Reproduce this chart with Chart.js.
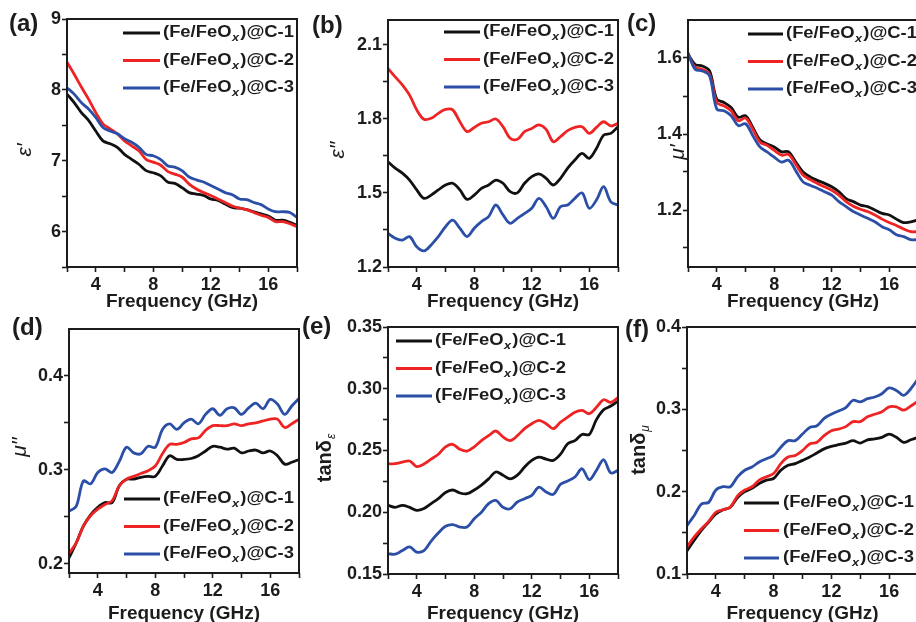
<!DOCTYPE html>
<html>
<head>
<meta charset="utf-8">
<script src="https://cdn.jsdelivr.net/npm/chart.js@4.4.0/dist/chart.umd.min.js"></script>
<style>
  html, body { margin: 0; padding: 0; background: #fff; }
  #fig { position: relative; width: 916px; height: 622px; overflow: hidden; background: #fff; }
  .panel { position: absolute; }
</style>
</head>
<body>
<div id="fig"></div>
<script>
// ─── Data ────────────────────────────────────────────────────────────────────
const FREQ = [2, 2.5, 3, 3.5, 4, 4.5, 5, 5.5, 6, 6.5, 7, 7.5, 8, 8.5, 9, 9.5, 10,
  10.5, 11, 11.5, 12, 12.5, 13, 13.5, 14, 14.5, 15, 15.5, 16, 16.5, 17, 17.5, 18];

const SAMPLE_NAMES = ["(Fe/FeOx)@C-1", "(Fe/FeOx)@C-2", "(Fe/FeOx)@C-3"];

// (a) ε'
const EPS1_C1 = [7.94, 7.82, 7.68, 7.57, 7.42, 7.28, 7.24, 7.19, 7.09, 7.02, 6.95, 6.86, 6.83, 6.79, 6.70, 6.68, 6.62,
  6.55, 6.53, 6.51, 6.46, 6.44, 6.39, 6.34, 6.33, 6.31, 6.28, 6.25, 6.22, 6.16, 6.16, 6.13, 6.09];
const EPS1_C2 = [8.39, 8.22, 8.04, 7.87, 7.68, 7.52, 7.45, 7.38, 7.28, 7.21, 7.14, 7.02, 6.98, 6.94, 6.85, 6.81, 6.77,
  6.67, 6.60, 6.55, 6.51, 6.46, 6.41, 6.36, 6.33, 6.31, 6.27, 6.23, 6.20, 6.14, 6.14, 6.11, 6.07];
const EPS1_C3 = [8.03, 7.94, 7.82, 7.73, 7.61, 7.47, 7.42, 7.38, 7.31, 7.26, 7.19, 7.09, 7.07, 7.02, 6.93, 6.91, 6.86,
  6.77, 6.73, 6.70, 6.65, 6.60, 6.55, 6.52, 6.46, 6.45, 6.41, 6.38, 6.32, 6.28, 6.28, 6.27, 6.20];

// (b) ε''
const EPS2_C1 = [1.626, 1.60, 1.58, 1.552, 1.512, 1.478, 1.491, 1.512, 1.532, 1.539, 1.512, 1.474, 1.491, 1.518, 1.532, 1.552, 1.539,
  1.505, 1.50, 1.539, 1.566, 1.577, 1.559, 1.532, 1.559, 1.60, 1.633, 1.66, 1.64, 1.68, 1.734, 1.741, 1.768];
const EPS2_C2 = [2.004, 1.97, 1.937, 1.896, 1.836, 1.798, 1.802, 1.822, 1.838, 1.836, 1.788, 1.748, 1.765, 1.782, 1.788, 1.799, 1.768,
  1.721, 1.717, 1.748, 1.761, 1.775, 1.757, 1.707, 1.728, 1.752, 1.765, 1.768, 1.741, 1.765, 1.788, 1.771, 1.782];
const EPS2_C3 = [1.336, 1.316, 1.309, 1.323, 1.282, 1.265, 1.289, 1.323, 1.363, 1.39, 1.357, 1.323, 1.357, 1.384, 1.404, 1.451, 1.411,
  1.377, 1.397, 1.417, 1.438, 1.478, 1.444, 1.397, 1.444, 1.451, 1.478, 1.50, 1.438, 1.471, 1.525, 1.464, 1.451];

// (c) μ'
const MU1_C1 = [1.61, 1.583, 1.579, 1.566, 1.492, 1.483, 1.47, 1.444, 1.448, 1.418, 1.385, 1.374, 1.366, 1.353, 1.353, 1.326, 1.30,
  1.287, 1.278, 1.27, 1.261, 1.248, 1.23, 1.222, 1.213, 1.209, 1.20, 1.191, 1.187, 1.176, 1.167, 1.169, 1.174];
const MU1_C2 = [1.61, 1.575, 1.57, 1.557, 1.483, 1.474, 1.461, 1.435, 1.442, 1.413, 1.379, 1.37, 1.357, 1.344, 1.346, 1.32, 1.292,
  1.28, 1.27, 1.261, 1.252, 1.239, 1.222, 1.21, 1.202, 1.196, 1.187, 1.176, 1.167, 1.159, 1.15, 1.143, 1.143];
const MU1_C3 = [1.614, 1.57, 1.566, 1.553, 1.466, 1.461, 1.448, 1.422, 1.427, 1.396, 1.366, 1.353, 1.339, 1.326, 1.331, 1.303, 1.274,
  1.265, 1.257, 1.248, 1.239, 1.222, 1.209, 1.196, 1.187, 1.178, 1.169, 1.156, 1.148, 1.135, 1.13, 1.122, 1.122];

// (d) μ''
const MU2_C1 = [0.206, 0.222, 0.24, 0.252, 0.26, 0.265, 0.265, 0.283, 0.29, 0.29, 0.292, 0.293, 0.293, 0.304, 0.315, 0.311, 0.311,
  0.312, 0.315, 0.32, 0.325, 0.324, 0.322, 0.323, 0.318, 0.32, 0.321, 0.318, 0.32, 0.315, 0.306, 0.308, 0.311];
const MU2_C2 = [0.211, 0.222, 0.24, 0.251, 0.258, 0.263, 0.267, 0.283, 0.29, 0.293, 0.296, 0.299, 0.304, 0.317, 0.327, 0.327, 0.329,
  0.333, 0.334, 0.342, 0.347, 0.347, 0.347, 0.349, 0.347, 0.349, 0.35, 0.352, 0.354, 0.354, 0.345, 0.349, 0.354];
const MU2_C3 = [0.256, 0.261, 0.288, 0.285, 0.297, 0.301, 0.297, 0.309, 0.324, 0.318, 0.317, 0.325, 0.324, 0.343, 0.349, 0.343, 0.35,
  0.354, 0.349, 0.359, 0.365, 0.358, 0.365, 0.366, 0.359, 0.366, 0.371, 0.365, 0.375, 0.37, 0.359, 0.368, 0.376];

// (e) tanδε
const TANE_C1 = [0.2056, 0.204, 0.2056, 0.204, 0.2015, 0.203, 0.207, 0.211, 0.216, 0.218, 0.2156, 0.215, 0.218, 0.222, 0.227, 0.2326, 0.23,
  0.227, 0.23, 0.2366, 0.242, 0.2447, 0.243, 0.242, 0.247, 0.2555, 0.258, 0.263, 0.263, 0.275, 0.283, 0.286, 0.29];
const TANE_C2 = [0.2393, 0.2393, 0.2406, 0.2415, 0.237, 0.239, 0.243, 0.247, 0.253, 0.255, 0.251, 0.2495, 0.253, 0.258, 0.262, 0.2658, 0.261,
  0.258, 0.262, 0.2677, 0.2717, 0.2744, 0.2717, 0.2677, 0.273, 0.277, 0.281, 0.2825, 0.2798, 0.285, 0.2911, 0.289, 0.2928];
const TANE_C3 = [0.1665, 0.166, 0.169, 0.1719, 0.1678, 0.169, 0.1767, 0.1832, 0.1886, 0.190, 0.188, 0.188, 0.1948, 0.200, 0.207, 0.2096, 0.204,
  0.2028, 0.2083, 0.211, 0.2137, 0.2204, 0.2164, 0.2145, 0.2226, 0.2253, 0.2285, 0.2352, 0.2264, 0.2339, 0.2425, 0.2318, 0.2339];

// (f) tanδμ
const TANM_C1 = [0.128, 0.141, 0.153, 0.163, 0.173, 0.178, 0.181, 0.193, 0.20, 0.204, 0.21, 0.214, 0.216, 0.226, 0.232, 0.234, 0.238,
  0.242, 0.247, 0.252, 0.255, 0.257, 0.259, 0.262, 0.259, 0.263, 0.264, 0.266, 0.27, 0.266, 0.26, 0.263, 0.266];
const TANM_C2 = [0.133, 0.145, 0.155, 0.164, 0.175, 0.178, 0.181, 0.195, 0.202, 0.206, 0.214, 0.218, 0.222, 0.234, 0.242, 0.244, 0.25,
  0.258, 0.26, 0.268, 0.274, 0.276, 0.279, 0.285, 0.285, 0.291, 0.294, 0.297, 0.303, 0.303, 0.299, 0.304, 0.31];
const TANM_C3 = [0.159, 0.171, 0.185, 0.187, 0.202, 0.206, 0.206, 0.218, 0.226, 0.23, 0.236, 0.24, 0.244, 0.254, 0.262, 0.262, 0.27,
  0.278, 0.28, 0.289, 0.294, 0.298, 0.302, 0.311, 0.309, 0.313, 0.315, 0.319, 0.326, 0.323, 0.317, 0.325, 0.337];

// ─── Ticks ───────────────────────────────────────────────────────────────────
const X_TICKS = [2, 4, 6, 8, 10, 12, 14, 16, 18];
const X_LABELS = [4, 8, 12, 16];

const Y_TICKS_EPS1 = [5.5, 6, 6.5, 7, 7.5, 8, 8.5, 9];
const Y_LABELS_EPS1 = [6, 7, 8, 9];
const Y_TICKS_EPS2 = [1.2, 1.35, 1.5, 1.65, 1.8, 1.95, 2.1];
const Y_LABELS_EPS2 = [1.2, 1.5, 1.8, 2.1];
const Y_TICKS_MU1 = [1.1, 1.2, 1.3, 1.4, 1.5, 1.6];
const Y_LABELS_MU1 = [1.2, 1.4, 1.6];
const Y_TICKS_MU2 = [0.2, 0.25, 0.3, 0.35, 0.4];
const Y_LABELS_MU2 = [0.2, 0.3, 0.4];
const Y_TICKS_TANE = [0.15, 0.175, 0.2, 0.225, 0.25, 0.275, 0.3, 0.325, 0.35];
const Y_LABELS_TANE = [0.15, 0.2, 0.25, 0.3, 0.35];
const Y_TICKS_TANM = [0.1, 0.15, 0.2, 0.25, 0.3, 0.35, 0.4];
const Y_LABELS_TANM = [0.1, 0.2, 0.3, 0.4];

// ─── Style ───────────────────────────────────────────────────────────────────
const FONT = '"Liberation Sans", Arial, sans-serif';
const INK = "#1c1c1c";
const LINE_COLORS = ["#111111", "#ee2424", "#2b4fa6"];

Chart.defaults.font.family = FONT;
Chart.defaults.color = INK;

// Panels: page-pixel boxes for the canvas and the plot frame
const PANELS = [
  { box: [0, 0, 305, 313], area: [67, 19, 297, 267], y: [5.5, 9], yTicks: Y_TICKS_EPS1, yLabels: Y_LABELS_EPS1, dec: 0,
    series: [EPS1_C1, EPS1_C2, EPS1_C3], letter: "(a)", letterAt: [9, 24],
    title: { main: "ε′", sub: "", at: [25, 150], italic: true }, legend: { x0: 123, x1: 160, tx: 163, y0: 33 } },
  { box: [300, 0, 325, 313], area: [388, 20, 618, 267], y: [1.2, 2.2], yTicks: Y_TICKS_EPS2, yLabels: Y_LABELS_EPS2, dec: 1,
    series: [EPS2_C1, EPS2_C2, EPS2_C3], letter: "(b)", letterAt: [312, 26],
    title: { main: "ε′′", sub: "", at: [338, 150], italic: true }, legend: { x0: 444, x1: 480, tx: 483, y0: 32 } },
  { box: [606, 0, 320, 313], area: [688, 20, 918, 267], y: [1.05, 1.7], yTicks: Y_TICKS_MU1, yLabels: Y_LABELS_MU1, dec: 1,
    series: [MU1_C1, MU1_C2, MU1_C3], letter: "(c)", letterAt: [627, 24],
    title: { main: "μ′", sub: "", at: [678, 152], italic: true }, legend: { x0: 748, x1: 783, tx: 786, y0: 34 } },
  { box: [0, 310, 305, 315], area: [69, 329, 299, 573], y: [0.19, 0.45], yTicks: Y_TICKS_MU2, yLabels: Y_LABELS_MU2, dec: 1,
    series: [MU2_C1, MU2_C2, MU2_C3], letter: "(d)", letterAt: [12, 328],
    title: { main: "μ′′", sub: "", at: [20, 447], italic: true }, legend: { x0: 124, x1: 160, tx: 163, y0: 499 } },
  { box: [300, 310, 325, 315], area: [388, 327, 618, 574], y: [0.15, 0.35], yTicks: Y_TICKS_TANE, yLabels: Y_LABELS_TANE, dec: 2,
    series: [TANE_C1, TANE_C2, TANE_C3], letter: "(e)", letterAt: [302, 327],
    title: { main: "tanδ", sub: "ε", at: [325, 458], italic: false }, legend: { x0: 396, x1: 432, tx: 435, y0: 341 } },
  { box: [606, 310, 320, 315], area: [687, 327, 918, 574], y: [0.1, 0.4], yTicks: Y_TICKS_TANM, yLabels: Y_LABELS_TANM, dec: 1,
    series: [TANM_C1, TANM_C2, TANM_C3], letter: "(f)", letterAt: [625, 330],
    title: { main: "tanδ", sub: "μ", at: [639, 450], italic: false }, legend: { x0: 744, x1: 779, tx: 783, y0: 503 } },
];

const isIn = (list, v) => list.some(m => Math.abs(m - v) < 1e-9);

// legend entry, with the x of FeOx as subscript
function drawSampleName(ctx, name, x, y) {
  const cut = name.indexOf("Ox)") + 1;
  const head = name.slice(0, cut), sub = name.slice(cut, cut + 1), tail = name.slice(cut + 1);
  ctx.save();
  ctx.translate(x, y);
  ctx.scale(1.15, 1);
  ctx.textAlign = "left";
  ctx.textBaseline = "middle";
  ctx.fillStyle = INK;
  ctx.font = `bold 16px ${FONT}`;
  ctx.fillText(head, 0, 0);
  let w = ctx.measureText(head).width;
  ctx.font = `italic bold 11px ${FONT}`;
  ctx.fillText(sub, w + 0.5, 5);
  w += ctx.measureText(sub).width + 1.5;
  ctx.font = `bold 16px ${FONT}`;
  ctx.fillText(tail, w, 0);
  ctx.restore();
}

function decorPlugin(p) {
  const ox = p.box[0], oy = p.box[1];
  return {
    id: "decor",
    afterDraw(chart) {
      const ctx = chart.ctx;
      const a = chart.chartArea;
      ctx.save();
      // frame
      ctx.strokeStyle = INK;
      ctx.lineWidth = 2;
      ctx.strokeRect(a.left, a.top, a.right - a.left, a.bottom - a.top);

      // panel letter
      ctx.fillStyle = INK;
      ctx.font = `bold 24px ${FONT}`;
      ctx.textAlign = "left";
      ctx.textBaseline = "middle";
      ctx.fillText(p.letter, p.letterAt[0] - ox, p.letterAt[1] - oy);

      // y title (rotated)
      ctx.save();
      ctx.translate(p.title.at[0] - ox, p.title.at[1] - oy);
      ctx.rotate(-Math.PI / 2);
      ctx.textBaseline = "middle";
      const mainFont = p.title.italic ? `italic 21px ${FONT}` : `bold 20px ${FONT}`;
      ctx.font = mainFont;
      const mw = ctx.measureText(p.title.main).width;
      let sw = 0;
      if (p.title.sub) {
        ctx.font = `italic 12px ${FONT}`;
        sw = ctx.measureText(p.title.sub).width + 1;
      }
      const start = -(mw + sw) / 2;
      ctx.textAlign = "left";
      ctx.font = mainFont;
      ctx.fillText(p.title.main, start, 0);
      if (p.title.sub) {
        ctx.font = `italic 12px ${FONT}`;
        ctx.fillText(p.title.sub, start + mw + 1, 7);
      }
      ctx.restore();

      // legend
      const lg = p.legend;
      SAMPLE_NAMES.forEach((name, i) => {
        const yy = lg.y0 + i * 27.5 - oy;
        ctx.strokeStyle = LINE_COLORS[i];
        ctx.lineWidth = 2.8;
        ctx.beginPath();
        ctx.moveTo(lg.x0 - ox, yy);
        ctx.lineTo(lg.x1 - ox, yy);
        ctx.stroke();
        drawSampleName(ctx, name, lg.tx - ox, yy);
      });
      ctx.restore();
    },
  };
}

function makePanel(p) {
  const [bl, bt, bw, bh] = p.box;
  const [al, at, ar, ab] = p.area;
  const wrap = document.createElement("div");
  wrap.className = "panel";
  wrap.style.left = bl + "px";
  wrap.style.top = bt + "px";
  wrap.style.width = bw + "px";
  wrap.style.height = bh + "px";
  const canvas = document.createElement("canvas");
  wrap.appendChild(canvas);
  document.getElementById("fig").appendChild(wrap);

  const yW = al - bl, xH = bt + bh - ab;
  const tickFont = { size: 18, weight: "bold" };

  return new Chart(canvas, {
    type: "line",
    data: {
      datasets: p.series.map((ys, i) => ({
        label: SAMPLE_NAMES[i],
        data: FREQ.map((f, j) => ({ x: f, y: ys[j] })),
        borderColor: LINE_COLORS[i],
        backgroundColor: "transparent",
        borderWidth: 2.8,
        pointRadius: 0,
        tension: 0.35,
        order: 3 - i,
      })),
    },
    options: {
      responsive: true,
      maintainAspectRatio: false,
      animation: false,
      events: [],
      layout: { padding: { top: at - bt, right: bl + bw - ar, left: 0, bottom: 0 } },
      plugins: { legend: { display: false }, tooltip: { enabled: false } },
      scales: {
        x: {
          type: "linear",
          min: 2,
          max: 18,
          afterBuildTicks: (s) => { s.ticks = X_TICKS.map(v => ({ value: v })); },
          afterFit: (s) => { s.height = xH; },
          border: { display: false },
          grid: { drawOnChartArea: false, drawTicks: true, tickLength: 5, tickWidth: 1.6, tickColor: INK },
          ticks: {
            autoSkip: false, maxRotation: 0, padding: 2, font: tickFont, color: INK,
            callback: (v) => (isIn(X_LABELS, v) ? String(v) : ""),
          },
          title: {
            display: true, text: "Frequency (GHz)", color: INK,
            font: { size: 19, weight: "bold" }, padding: { top: 0, bottom: 0 },
          },
        },
        y: {
          type: "linear",
          min: p.y[0],
          max: p.y[1],
          afterBuildTicks: (s) => { s.ticks = p.yTicks.map(v => ({ value: v })); },
          afterFit: (s) => { s.width = yW; },
          border: { display: false },
          grid: { drawOnChartArea: false, drawTicks: true, tickLength: 5, tickWidth: 1.6, tickColor: INK },
          ticks: {
            autoSkip: false, padding: 1, font: tickFont, color: INK,
            callback: (v) => (isIn(p.yLabels, v) ? v.toFixed(p.dec) : ""),
          },
        },
      },
    },
    plugins: [decorPlugin(p)],
  });
}

PANELS.forEach(makePanel);
</script>
</body>
</html>
